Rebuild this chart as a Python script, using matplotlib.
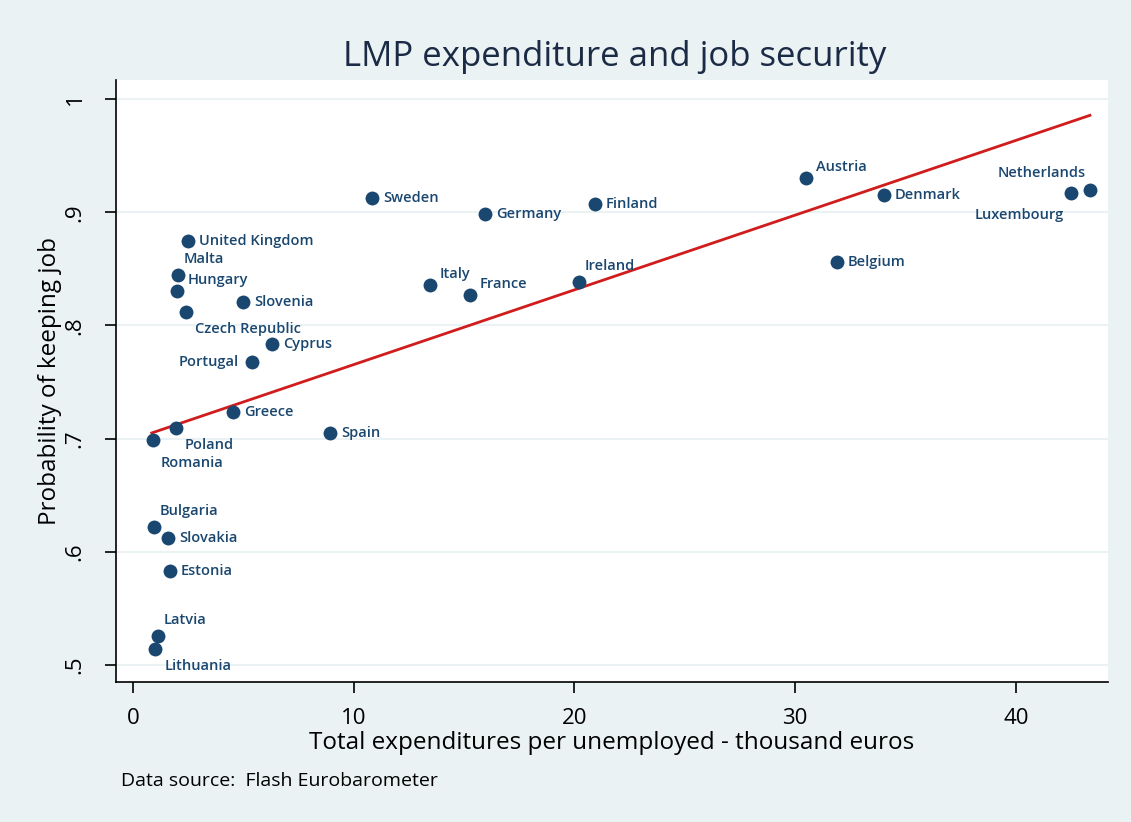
import numpy as np
import matplotlib
matplotlib.use("Agg")
import matplotlib.pyplot as plt

# data
countries = ["Sweden", "Germany", "Finland", "Austria", "Denmark", "Belgium",
             "Netherlands", "Luxembourg", "Ireland", "Italy", "France",
             "United Kingdom", "Malta", "Hungary", "Czech Republic", "Slovenia",
             "Cyprus", "Portugal", "Greece", "Poland", "Romania", "Spain",
             "Bulgaria", "Slovakia", "Estonia", "Latvia", "Lithuania"]
expenditure = [10.83, 15.95, 20.93, 30.49, 34.03, 31.90,
               43.36, 42.50, 20.20, 13.46, 15.27,
               2.49, 2.02, 2.00, 2.39, 4.99,
               6.31, 5.40, 4.52, 1.95, 0.92, 8.93,
               0.95, 1.60, 1.68, 1.12, 1.01]
keep_job = [0.9125, 0.898, 0.907, 0.930, 0.915, 0.856,
            0.920, 0.917, 0.838, 0.836, 0.827,
            0.875, 0.8445, 0.8307, 0.812, 0.821,
            0.7837, 0.768, 0.7237, 0.709, 0.699, 0.7047,
            0.622, 0.6125, 0.5828, 0.526, 0.5144]

# fitted line as shown in the picture
fit_intercept = 0.6994
fit_slope = 0.0066

x_ticks = [0, 10, 20, 30, 40]
y_ticks = [0.5, 0.6, 0.7, 0.8, 0.9, 1.0]
y_ticklabels = [".5", ".6", ".7", ".8", ".9", "1"]

# label positions (clock style, like stata mlabvposition)
label_pos = {"Austria": 2, "Netherlands": 11, "Luxembourg": 7, "Ireland": 1,
             "Italy": 2, "France": 2, "Malta": 1, "Hungary": 2,
             "Czech Republic": 5, "Portugal": 9, "Poland": 5, "Romania": 6,
             "Bulgaria": 1, "Latvia": 1, "Lithuania": 5}
# offset in px, alignment
clock = {3: (11, 0, "left"), 1: (6, 16, "left"), 2: (10, 11, "left"),
         5: (9, -17, "left"), 6: (7, -23, "left"), 9: (-13, 0, "right"),
         11: (-4, 17, "right"), 7: (-7, -22, "right")}

navy = "#1a476f"
bg = "#eaf2f3"
plt.rcParams["font.family"] = ["Open Sans", "DejaVu Sans"]

fig = plt.figure(figsize=(11.31, 8.22), dpi=100, facecolor=bg)
ax = fig.add_axes([0.1026, 0.1703, 0.8771, 0.7324])
ax.set_facecolor("white")

ax.scatter(expenditure, keep_job, s=100, color=navy, zorder=3, linewidths=0)

for name, xv, yv in zip(countries, expenditure, keep_job):
    dx, dy, ha = clock[label_pos.get(name, 3)]
    ax.annotate(name, (xv, yv), xytext=(dx * 0.72, dy * 0.72),
                textcoords="offset points", ha=ha, va="center",
                fontsize=10.5, fontweight="semibold", color=navy, zorder=4)

xs = np.array(expenditure)
xl = np.array([xs.min() - 0.07, xs.max()])
ax.plot(xl, fit_intercept + fit_slope * xl, color="#d01c1c", lw=2, zorder=2)

ax.set_xlim(-0.77, 44.18)
ax.set_ylim(0.485, 1.0168)
ax.set_xticks(x_ticks)
ax.set_yticks(y_ticks)
ax.set_yticklabels(y_ticklabels, rotation=90, va="center")
ax.tick_params(axis="both", length=8, width=1.2, labelsize=16)
ax.tick_params(axis="x", pad=11)
ax.tick_params(axis="y", pad=14)
ax.yaxis.grid(True, color=bg, lw=1.5)
ax.set_axisbelow(True)
for s in ["top", "right"]:
    ax.spines[s].set_visible(False)
for s in ["left", "bottom"]:
    ax.spines[s].set_linewidth(1.2)

ax.set_xlabel("Total expenditures per unemployed - thousand euros", fontsize=17.5, labelpad=1)
ax.set_ylabel("Probability of keeping job", fontsize=17.5, labelpad=2)
fig.text(0.543, 0.9197, "LMP expenditure and job security", ha="center", va="baseline",
         fontsize=25, color="#1c2b45")
fig.text(0.107, 0.0438, "Data source:  Flash Eurobarometer", fontsize=14, va="baseline")

fig.savefig("out.png", dpi=100, facecolor=bg)
